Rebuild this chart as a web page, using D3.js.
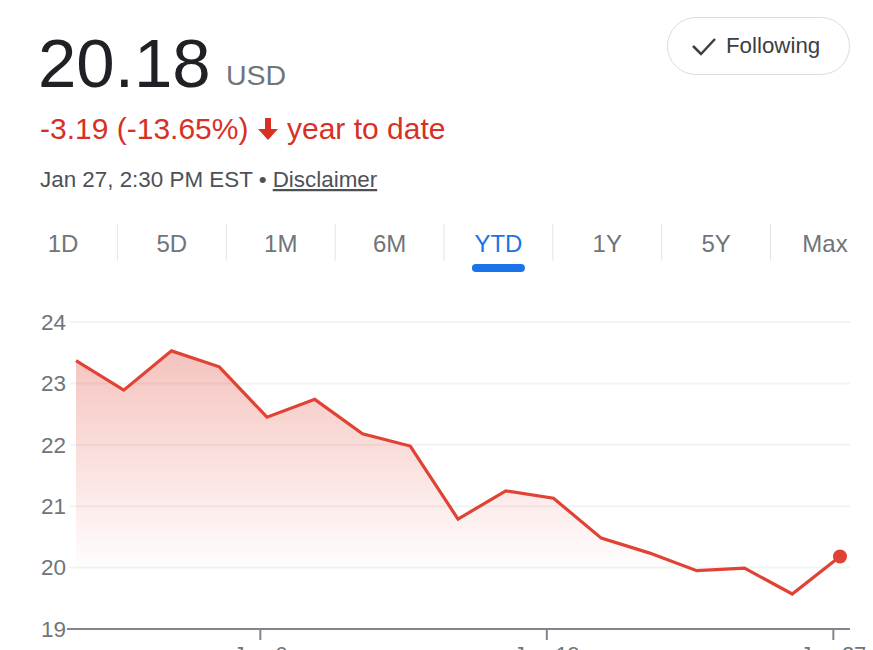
<!DOCTYPE html>
<html>
<head>
<meta charset="utf-8">
<script src="https://cdn.jsdelivr.net/npm/d3@7"></script>
<style>
  body { margin: 0; background: #fff; }
  svg { display: block; font-family: "Liberation Sans", Arial, sans-serif; }
</style>
</head>
<body>
<div id="chart"></div>
<script>
// closing prices, one per trading day (YTD)
const prices = [23.37, 22.89, 23.53, 23.27, 22.45, 22.74, 22.18, 21.98, 20.79,
                21.25, 21.13, 20.48, 20.24, 19.95, 19.99, 19.57, 20.18];
const tickLabels = ["Jan 6", "Jan 19", "Jan 27"];
const tickAt = [3.85, 9.85, 15.85]; // fractional day index of each date tick
const yTicks = [19, 20, 21, 22, 23, 24];
const ranges = ["1D", "5D", "1M", "6M", "YTD", "1Y", "5Y", "Max"];
const activeRange = "YTD";

const width = 873,
      height = 650,
      margin = ({ top: 322, right: 33, bottom: 21, left: 76 });

const red = "#e04234";

let svg = d3.select("#chart")
    .append("svg")
    .attr("width", width)
    .attr("height", height);

// ---- header ----
svg.append("text")
    .attr("x", 38).attr("y", 87)
    .attr("font-size", 69)
    .attr("fill", "#202124")
    .text("20.18");

svg.append("text")
    .attr("x", 226).attr("y", 85)
    .attr("font-size", 28.5)
    .attr("fill", "#70757a")
    .text("USD");

svg.append("text")
    .attr("x", 40).attr("y", 139)
    .attr("font-size", 30)
    .attr("fill", "#d93025")
    .text("-3.19 (-13.65%)");

// down arrow
svg.append("path")
    .attr("d", "M265,118 h6 v11 h7 l-10,11 l-10,-11 h7 z")
    .attr("fill", "#d93025");

svg.append("text")
    .attr("x", 287).attr("y", 139)
    .attr("font-size", 30)
    .attr("fill", "#d93025")
    .text("year to date");

let sub = svg.append("text")
    .attr("x", 40).attr("y", 187)
    .attr("font-size", 22.4)
    .attr("fill", "#4d5156");
sub.append("tspan").text("Jan 27, 2:30 PM EST • ");
sub.append("tspan").text("Disclaimer").attr("text-decoration", "underline");

// following button
svg.append("rect")
    .attr("x", 667.5).attr("y", 17.5)
    .attr("width", 182).attr("height", 57)
    .attr("rx", 28.5)
    .attr("fill", "#fff")
    .attr("stroke", "#dadce0");

svg.append("path")
    .attr("d", "M693,46 L701,54 L715,39")
    .attr("fill", "none")
    .attr("stroke", "#3c4043")
    .attr("stroke-width", 2.5);

svg.append("text")
    .attr("x", 726).attr("y", 53)
    .attr("font-size", 22.3)
    .attr("fill", "#3c4043")
    .text("Following");

// ---- range tabs ----
let tabX = d3.scalePoint()
    .domain(ranges)
    .range([63, 825]);

let step = tabX.step();

svg.append("g")
    .selectAll("line")
    .data(ranges.slice(1))
    .join("line")
    .attr("x1", d => tabX(d) - step / 2)
    .attr("x2", d => tabX(d) - step / 2)
    .attr("y1", 224).attr("y2", 261)
    .attr("stroke", "#e3e5e8");

svg.append("g")
    .selectAll("text")
    .data(ranges)
    .join("text")
    .attr("x", d => tabX(d))
    .attr("y", 252)
    .attr("text-anchor", "middle")
    .attr("font-size", 24)
    .attr("fill", d => d === activeRange ? "#1a73e8" : "#70757a")
    .text(d => d);

svg.append("rect")
    .attr("x", tabX(activeRange) - 26.5)
    .attr("y", 264)
    .attr("width", 53).attr("height", 8)
    .attr("rx", 4)
    .attr("fill", "#1a73e8");

// ---- chart ----
let x = d3.scaleLinear()
    .domain([0, prices.length - 1])
    .range([margin.left, width - margin.right]);

let y = d3.scaleLinear()
    .domain([19, 24])
    .range([height - margin.bottom, margin.top]);

// gridlines
svg.append("g")
    .selectAll("line")
    .data(yTicks.slice(1))
    .join("line")
    .attr("x1", 70).attr("x2", 850)
    .attr("y1", d => y(d)).attr("y2", d => y(d))
    .attr("stroke", "#f1f3f4")
    .attr("stroke-width", 2);

// y labels
svg.append("g")
    .attr("transform", `translate(66,0)`)
    .call(d3.axisLeft(y).tickValues(yTicks).tickSize(0).tickPadding(0).tickFormat(d3.format("d")))
    .call(g => g.select(".domain").remove())
    .call(g => g.selectAll("text")
        .attr("font-size", 22.5)
        .attr("font-family", "Liberation Sans, Arial, sans-serif")
        .attr("fill", "#70757a"));

// gradient fill under line
let grad = svg.append("defs")
    .append("linearGradient")
    .attr("id", "fade")
    .attr("x1", 0).attr("x2", 0)
    .attr("y1", 0).attr("y2", 1);
grad.append("stop").attr("offset", "0%").attr("stop-color", red).attr("stop-opacity", 0.32);
grad.append("stop").attr("offset", "80%").attr("stop-color", red).attr("stop-opacity", 0.0);

svg.append("path")
    .datum(prices)
    .attr("fill", "url(#fade)")
    .attr("d", d3.area()
        .x((d, i) => x(i))
        .y0(y(19))
        .y1(d => y(d)));

// x axis (labels sit at the bottom edge, cut off as in the original)
svg.append("g")
    .attr("transform", `translate(0,${y(19)})`)
    .call(d3.axisBottom(x).tickValues(tickAt).tickFormat((d, i) => tickLabels[i]).tickSizeOuter(0).tickSize(11).tickPadding(6))
    .call(g => g.select(".domain")
        .attr("d", `M67,0H850`)
        .attr("stroke", "#80868b")
        .attr("stroke-width", 2))
    .call(g => g.selectAll(".tick line")
        .attr("stroke", "#80868b")
        .attr("stroke-width", 2))
    .call(g => g.selectAll("text")
        .attr("font-size", 22)
        .attr("font-family", "Liberation Sans, Arial, sans-serif")
        .attr("fill", "#70757a"));

// price line
svg.append("path")
    .datum(prices)
    .attr("fill", "none")
    .attr("stroke", red)
    .attr("stroke-width", 3.2)
    .attr("stroke-linejoin", "miter")
    .attr("d", d3.line()
        .x((d, i) => x(i))
        .y(d => y(d)));

// last point
svg.append("circle")
    .attr("cx", x(prices.length - 1))
    .attr("cy", y(prices[prices.length - 1]))
    .attr("r", 7)
    .attr("fill", red);
</script>
</body>
</html>
